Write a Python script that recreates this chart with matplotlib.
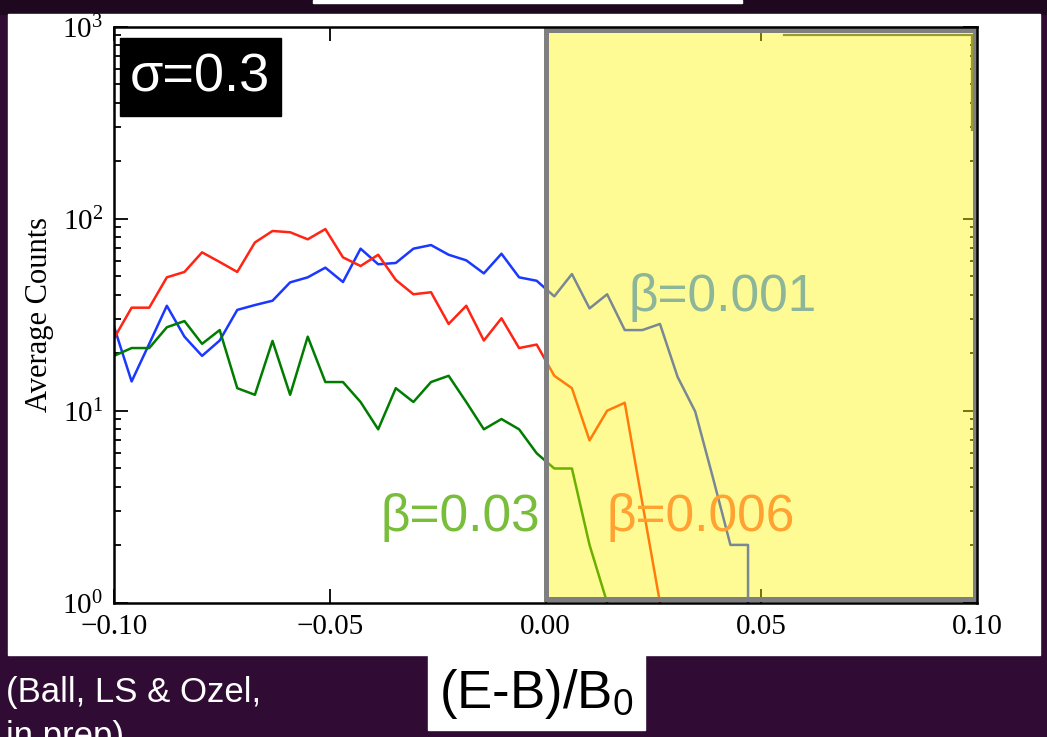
import numpy as np
import matplotlib
matplotlib.use("Agg")
import matplotlib.pyplot as plt
from matplotlib.patches import Rectangle
from matplotlib.lines import Line2D
from matplotlib.ticker import LogLocator, NullFormatter

plt.rcParams['font.family'] = 'serif'
plt.rcParams['font.serif'] = ['Liberation Serif', 'DejaVu Serif']
plt.rcParams['mathtext.fontset'] = 'stix'

# histogram bin centres, (E-B)/B0
x = np.linspace(-0.1, 0.1, 50)

# average counts per bin, one run per beta
counts_b0001 = [27.4, 14.2, 22.3, 35.2, 24.3, 19.3, 23.2, 33.5, 35.5, 37.4,
                46.6, 49.5, 55.6, 46.8, 69.8, 57.9, 58.8, 69.8, 72.9, 64.9,
                60.7, 51.9, 65.7, 49.5, 47.5, 39.4, 51.5, 34.1, 40.4, 26.3,
                26.3, 28.3, 15.0, 9.9, 4.5, 2.0, 2.0, 0, 0, 0,
                0, 0, 0, 0, 0, 0, 0, 0, 0, 0]
counts_b0006 = [23.8, 34.4, 34.4, 49.5, 52.8, 66.8, 59.5, 52.8, 75.2, 86.3,
                85.0, 78.1, 88.3, 62.9, 56.7, 64.9, 48.0, 40.4, 41.4, 28.3,
                35.2, 23.2, 30.3, 21.2, 22.1, 15.2, 13.1, 7.0, 10.0, 11.0,
                3.3, 1.0, 0, 0, 0, 0, 0, 0, 0, 0,
                0, 0, 0, 0, 0, 0, 0, 0, 0, 0]
counts_b003 = [19.3, 21.2, 21.2, 27.2, 29.3, 22.3, 26.3, 13.1, 12.1, 23.1,
               12.1, 24.3, 14.1, 14.1, 11.1, 8.0, 13.1, 11.1, 14.1, 15.2,
               11.1, 8.0, 9.05, 8.0, 6.0, 5.0, 5.0, 2.0, 1.0, 0,
               0, 0, 0, 0, 0, 0, 0, 0, 0, 0,
               0, 0, 0, 0, 0, 0, 0, 0, 0, 0]

xtick_vals = [-0.10, -0.05, 0.00, 0.05, 0.10]
xtick_labels = ['\u22120.10', '\u22120.05', '0.00', '0.05', '0.10']

W, H = 1047, 737
fig = plt.figure(figsize=(W / 100, H / 100), dpi=100)
fig.patch.set_facecolor('#300c35')


def fx(px):
    return px / W


def fy(py):
    return 1 - py / H


# slide background pieces
fig.patches.append(Rectangle((fx(0), fy(14)), 1, fy(0) - fy(14),
                             transform=fig.transFigure, color='#1e0820', zorder=0))
fig.patches.append(Rectangle((fx(8), fy(655)), fx(1040) - fx(8), fy(14) - fy(655),
                             transform=fig.transFigure, color='white', zorder=1))
fig.patches.append(Rectangle((fx(313), fy(3)), fx(742) - fx(313), fy(0) - fy(3),
                             transform=fig.transFigure, color='white', zorder=1))

ax = fig.add_axes([fx(114), fy(602.7), fx(977) - fx(114), fy(26.7) - fy(602.7)])
ax.set_zorder(2)

ax.plot(x, counts_b0001, color='#1a38ff', lw=1.8)
ax.plot(x, counts_b0006, color='#ff2414', lw=1.8)
ax.plot(x, counts_b003, color='#007d00', lw=1.8)

ax.set_yscale('log', nonpositive='clip')
ax.set_xlim(-0.1, 0.1)
ax.set_ylim(1, 1000)

# shaded E > B region
ax.add_patch(Rectangle((0.0, 1.04), 0.0995, 966 - 1.04,
                       facecolor=(1.0, 0.97, 0.0, 0.42), edgecolor='#7f7f7f',
                       lw=3.6, zorder=2.2))

ax.set_xticks(xtick_vals)
ax.set_xticklabels(xtick_labels)
ax.yaxis.set_major_locator(LogLocator(base=10, numticks=10))
ax.yaxis.set_minor_locator(LogLocator(base=10, subs=np.arange(2, 10), numticks=10))
ax.yaxis.set_minor_formatter(NullFormatter())
ax.tick_params(which='both', direction='in', top=True, right=True,
               labelsize=21, width=1.3, colors='black', zorder=3)
ax.tick_params(which='major', length=10, pad=8)
ax.tick_params(which='minor', length=5)
for sp in ax.spines.values():
    sp.set_linewidth(1.8)
    sp.set_zorder(3)

ax.set_ylabel('Average Counts', fontsize=22, labelpad=6)

# sigma tag
fig.patches.append(Rectangle((fx(120), fy(116)), fx(281) - fx(120), fy(38) - fy(116),
                             transform=fig.transFigure, color='black', zorder=5))
fig.text(fx(200), fy(77), '\u03c3=0.3', color='white', fontsize=39,
         family='Liberation Sans', ha='center', va='center', zorder=6)

# beta labels
fig.text(fx(629), fy(311), '\u03b2=0.001', color='#8cb59a', fontsize=37,
         family='Liberation Sans', ha='left', va='baseline', zorder=6)
fig.text(fx(380), fy(531), '\u03b2=0.03', color='#78be3a', fontsize=37,
         family='Liberation Sans', ha='left', va='baseline', zorder=6)
fig.text(fx(607), fy(531), '\u03b2=0.006', color='#ffa232', fontsize=37,
         family='Liberation Sans', ha='left', va='baseline', zorder=6)

# thin olive frame in the upper right corner
fig.lines.append(Line2D([fx(784), fx(972), fx(972)], [fy(35), fy(35), fy(130)],
                        transform=fig.transFigure, color='#9a9a2e', lw=1.6, zorder=6))

# x-axis title box
fig.patches.append(Rectangle((fx(428), fy(730)), fx(645) - fx(428), fy(655) - fy(730),
                             transform=fig.transFigure, color='white', zorder=5))
fig.text(fx(536), fy(694), r'(E-B)/B$_\mathregular{0}$', color='black', fontsize=38,
         family='Liberation Sans', ha='center', va='center', zorder=6)

# citation
fig.text(fx(6), fy(702), '(Ball, LS & Ozel,', color='white', fontsize=25,
         family='Liberation Sans', ha='left', va='baseline', zorder=6)
fig.text(fx(6), fy(746), 'in prep)', color='white', fontsize=25,
         family='Liberation Sans', ha='left', va='baseline', zorder=6)

fig.savefig('out.png', dpi=100, facecolor=fig.get_facecolor())
